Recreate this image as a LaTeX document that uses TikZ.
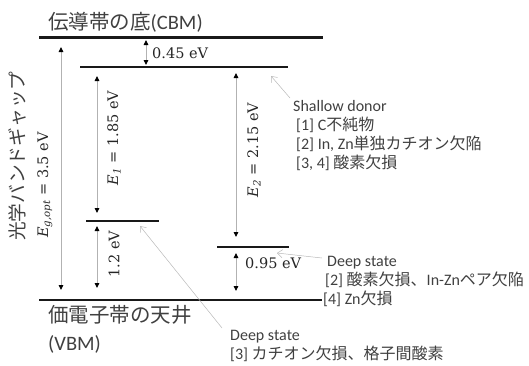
\documentclass[tikz,border=0pt]{standalone}
\usepackage[no-math]{fontspec}
\setmainfont{Carlito}
\newfontfamily\jpfont{Noto Sans CJK JP}
\newfontfamily\valfont{DejaVu Serif}
\newcommand{\J}[1]{{\jpfont #1}}
\newcommand{\Evar}[1]{{\itshape E}\textsubscript{\itshape #1}}
\usetikzlibrary{arrows.meta}
\begin{document}
\begin{tikzpicture}[x=1pt,y=-1pt,
  lvl/.style={line width=#1, black!90},
  gap/.style={gray!60, line width=0.9pt, {Triangle[length=5pt,width=4.5pt,black]}-{Triangle[length=5pt,width=4.5pt,black]}},
  ptr/.style={gray!55, line width=0.5pt, -{Straight Barb[length=5pt,width=8pt]}},
  lbl/.style={text=black!75, font=\fontsize{16}{19}\selectfont, inner sep=0pt, anchor=base west},
  big/.style={text=black!75, font=\fontsize{20.5}{24}\selectfont, inner sep=0pt, anchor=base west},
  val/.style={text=black!85, font=\valfont\fontsize{14.5}{17}\selectfont, inner sep=0pt}
]
\useasboundingbox (0,0) rectangle (529,365);

% levels
\coordinate (cbmL) at (39,37.5);  \coordinate (cbmR) at (323,37.5);
\coordinate (shL) at (80,67);     \coordinate (shR) at (288,67);
\coordinate (d1L) at (86,221);    \coordinate (d1R) at (159,221);
\coordinate (d2L) at (217,247);   \coordinate (d2R) at (289,247);
\coordinate (vbL) at (39,300);    \coordinate (vbR) at (322,300);
\draw[lvl=2.6pt] (cbmL) -- (cbmR);
\draw[lvl=1.8pt] (shL) -- (shR);
\draw[lvl=1.5pt] (d1L) -- (d1R);
\draw[lvl=1.5pt] (d2L) -- (d2R);
\draw[lvl=2.6pt] (vbL) -- (vbR);

% arrow anchor points on levels
\coordinate (egT) at (61,37.5);  \coordinate (egB) at (61,300);
\coordinate (e1T) at (97,67);    \coordinate (e1B) at (97,221);
\coordinate (a12T) at (97,221);  \coordinate (a12B) at (97,300);
\coordinate (e2T) at (236,67);   \coordinate (e2B) at (236,247);
\coordinate (a95T) at (236,247); \coordinate (a95B) at (236,300);
\coordinate (a45T) at (146,37.5);\coordinate (a45B) at (146,67);

\draw[gap, shorten <=9.5pt, shorten >=10pt] (egT) -- (egB);
\draw[gap, shorten <=9pt, shorten >=8pt] (e1T) -- (e1B);
\draw[gap, shorten <=5pt, shorten >=12pt] (a12T) -- (a12B);
\draw[gap, shorten <=6pt, shorten >=10pt] (e2T) -- (e2B);
\draw[gap, shorten <=6pt, shorten >=9pt] (a95T) -- (a95B);
\draw[gap, shorten <=2.5pt, shorten >=2pt] (a45T) -- (a45B);

% value labels
\node[val, anchor=west] (v45) at (152,53) {0.45 eV};
\node[val, rotate=90] (v1) at (114,138) {\Evar{1} = 1.85 eV};
\node[val, rotate=90] (v12) at (114,254) {1.2 eV};
\node[val, rotate=90] (v2) at (254,150) {\Evar{2} = 2.15 eV};
\node[val, anchor=west] (v95) at (245,263) {0.95 eV};

% left rotated label
\node[big, rotate=90, font=\fontsize{18.7}{22}\selectfont] (opt) at (24,241) {\J{光学バンドギャップ}};
\node[val, rotate=90, anchor=base west] (eg) at (48,238) {\Evar{g,opt} = 3.5 eV};

% band titles
\node[big] (cbmt) at (48,29) {\J{伝導帯の底}(CBM)};
\node[big] (vbmt) at (48,322) {\J{価電子帯の天井}};
\node[big] (vbmt2) at (48,350) {(VBM)};

% shallow donor block
\node[lbl] (sh0) at (293,111) {Shallow donor};
\node[lbl] (sh1) at (296,130) {[1] C\J{不純物}};
\node[lbl] (sh2) at (296,149) {[2] In, Zn\J{単独カチオン欠陥}};
\node[lbl] (sh3) at (296,168) {[3, 4] \J{酸素欠損}};

% deep state (2,4)
\node[lbl] (dp0) at (327,266) {Deep state};
\node[lbl] (dp1) at (325,285) {[2] \J{酸素欠損、}In-Zn\J{ペア欠陥}};
\node[lbl] (dp2) at (323,304) {[4] Zn\J{欠損}};

% deep state (3)
\node[lbl] (dq0) at (230,340) {Deep state};
\node[lbl] (dq1) at (230,359) {[3] \J{カチオン欠損、格子間酸素}};

% pointers
\coordinate (pS) at (271,76);
\coordinate (pD2) at (277,253);
\coordinate (pD1) at (140,226);
\coordinate (tS) at (290,98);
\coordinate (tD2) at (322,258);
\coordinate (tD1) at (222,328);
\draw[ptr] (tS) -- (pS);
\draw[ptr] (tD2) -- (pD2);
\draw[ptr] (tD1) -- (pD1);
\end{tikzpicture}
\end{document}
